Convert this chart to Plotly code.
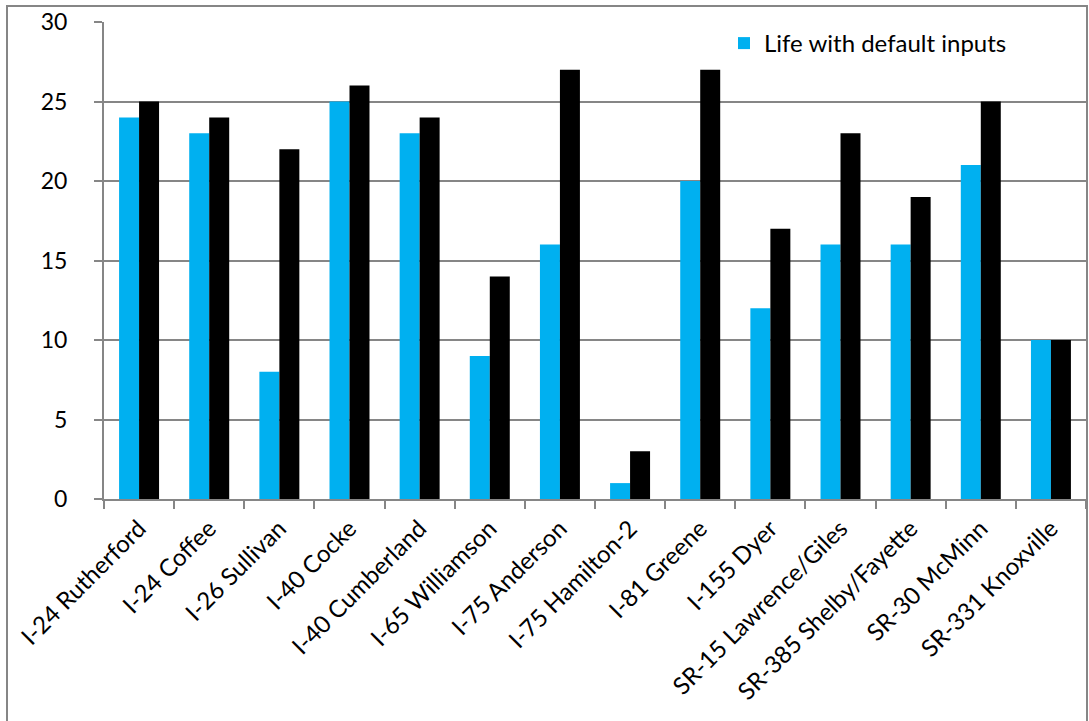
import plotly.graph_objects as go

sites = ["I-24 Rutherford", "I-24 Coffee", "I-26 Sullivan", "I-40 Cocke", "I-40 Cumberland",
         "I-65 Williamson", "I-75 Anderson", "I-75 Hamilton-2", "I-81 Greene", "I-155 Dyer",
         "SR-15 Lawrence/Giles", "SR-385 Shelby/Fayette", "SR-30 McMinn", "SR-331 Knoxville"]
life_default = [24, 23, 8, 25, 23, 9, 16, 1, 20, 12, 16, 16, 21, 10]
life_other = [25, 24, 22, 26, 24, 14, 27, 3, 27, 17, 23, 19, 25, 10]
y_ticks = [0, 5, 10, 15, 20, 25, 30]

W, H = 1089, 721
ML, MR, MT, MB = 104, 3, 22, 222
grid = "#868686"
font_family = "Lato, Open Sans, sans-serif"

fig = go.Figure()
fig.add_trace(go.Bar(x=sites, y=life_default, name="Life with default inputs",
                     marker=dict(color="#00B0F0", line=dict(width=0))))
fig.add_trace(go.Bar(x=sites, y=life_other, name="Life", showlegend=False,
                     marker=dict(color="#000000", line=dict(width=0))))

pw = W - ML - MR
ph = H - MT - MB
# outer chart frame
fig.add_shape(type="rect", xref="paper", yref="paper",
              x0=(7 - ML) / pw, x1=(1087 - ML) / pw,
              y0=-(H + 5 - MT - ph) / ph, y1=1 + (MT - 6) / ph,
              line=dict(color=grid, width=2), fillcolor="rgba(0,0,0,0)", layer="below")

fig.update_layout(
    width=W, height=H,
    margin=dict(l=ML, r=MR, t=MT, b=MB),
    paper_bgcolor="white", plot_bgcolor="white",
    barmode="group", bargap=0.43, bargroupgap=0,
    font=dict(family=font_family, size=22, color="black"),
    legend=dict(x=(724 - ML) / pw, y=1 - (21 - MT) / ph, xanchor="left", yanchor="top",
                bgcolor="rgba(0,0,0,0)", font=dict(size=24), itemwidth=30),
    xaxis=dict(type="category", tickangle=-45, showline=True, linecolor=grid, linewidth=2,
               ticks="outside", tickson="boundaries", ticklen=8, tickcolor=grid, tickwidth=2,
               showgrid=False, tickfont=dict(size=24), ticklabelstandoff=4),
    yaxis=dict(range=[0, 30], tickvals=y_ticks, showline=True, linecolor=grid, linewidth=2,
               ticks="outside", ticklen=8, tickcolor=grid, tickwidth=2,
               showgrid=True, gridcolor=grid, gridwidth=2, zeroline=False,
               ticklabelstandoff=22, tickfont=dict(size=23)),
)

fig.write_html("out.html")
